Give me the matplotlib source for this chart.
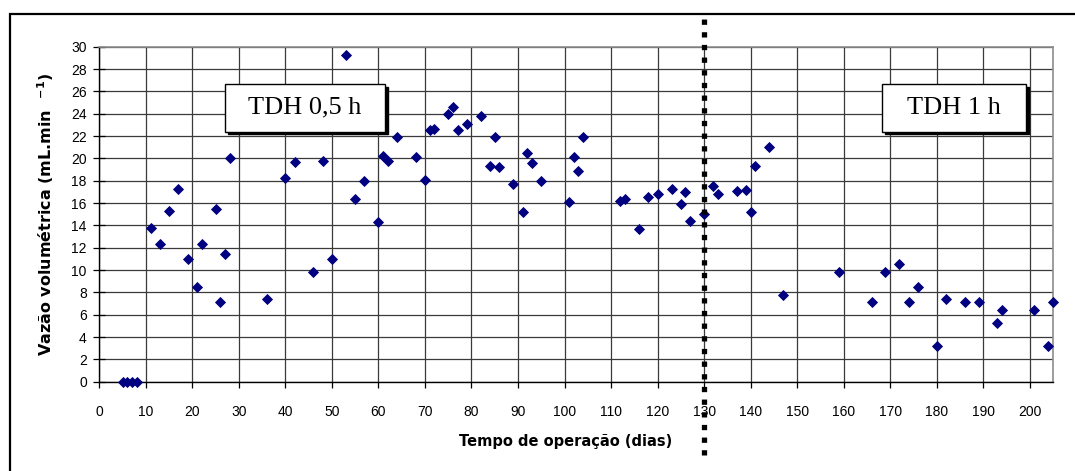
import matplotlib
matplotlib.use("Agg")
from matplotlib import pyplot as plt
from matplotlib.patches import Rectangle
from matplotlib.ticker import MultipleLocator

plt.rcParams['font.family'] = ['Liberation Sans', 'DejaVu Sans']
plt.rcParams['mathtext.fontset'] = 'custom'
plt.rcParams['mathtext.bf'] = 'DejaVu Sans:bold'
plt.rcParams['mathtext.rm'] = 'DejaVu Sans:bold'

# operation time (days) and volumetric flow (mL/min)
dias = [5, 6, 7, 8, 11, 13, 15, 17, 19, 21, 22, 25, 26, 27, 28, 36, 40, 42,
        46, 48, 50, 53, 55, 57, 60, 61, 62, 64, 68, 70, 71, 72, 75, 76, 77,
        79, 82, 84, 85, 86, 89, 91, 92, 93, 95, 101, 102, 103, 104, 112, 113,
        116, 118, 120, 123, 125, 126, 127, 130, 132, 133, 137, 139, 140, 141,
        144, 147, 159, 166, 169, 172, 174, 176, 180, 182, 186, 189, 193, 194,
        201, 204, 205]
vazao = [0, 0, 0, 0, 13.8, 12.3, 15.3, 17.3, 11.0, 8.5, 12.3, 15.5, 7.1, 11.4,
         20.0, 7.4, 18.2, 19.7, 9.8, 19.8, 11.0, 29.3, 16.4, 18.0, 14.3, 20.2,
         19.8, 21.9, 20.1, 18.1, 22.5, 22.6, 24.0, 24.6, 22.5, 23.1, 23.8,
         19.3, 21.9, 19.2, 17.7, 15.2, 20.5, 19.6, 18.0, 16.1, 20.1, 18.9,
         21.9, 16.2, 16.4, 13.7, 16.5, 16.8, 17.3, 15.9, 17.0, 14.4, 15.0,
         17.5, 16.8, 17.1, 17.2, 15.2, 19.3, 21.0, 7.8, 9.8, 7.1, 9.8, 10.5,
         7.1, 8.5, 3.2, 7.4, 7.1, 7.1, 5.3, 6.4, 6.4, 3.2, 7.1]

troca_tdh = 130
fases = ["TDH 0,5 h", "TDH 1 h"]

fig = plt.figure(figsize=(10.75, 4.71), dpi=100)
ax = fig.add_axes([0.0924, 0.1896, 0.8871, 0.7112])

ax.plot(dias, vazao, linestyle='none', marker='D', ms=5.5, mew=0.6,
        color='#000080', clip_on=False, zorder=5)

ax.set_xlim(0, 205)
ax.set_ylim(0, 30)
ax.xaxis.set_major_locator(MultipleLocator(10))
ax.yaxis.set_major_locator(MultipleLocator(2))
ax.grid(True, color='#3a3a3a', lw=0.9)
ax.set_axisbelow(True)

for lado in ['top', 'right']:
    ax.spines[lado].set_color('#8c8c8c')
    ax.spines[lado].set_linewidth(1.2)
for lado in ['left', 'bottom']:
    ax.spines[lado].set_color('black')
    ax.spines[lado].set_linewidth(1.0)

ax.tick_params(axis='y', direction='inout', length=8, width=0.9, pad=5,
               labelsize=10)
ax.tick_params(axis='x', direction='out', length=4, width=0.9, pad=13,
               labelsize=10)

ax.set_xlabel("Tempo de operação (dias)", fontsize=10.5, fontweight='bold',
              family='DejaVu Sans')
ax.xaxis.set_label_coords(0.489, -0.155)
ax.set_ylabel(r"Vazão volumétrica (mL.min  $^{-1}$)", fontsize=11.5,
              fontweight='bold', family='DejaVu Sans')
ax.yaxis.set_label_coords(-0.045, 0.5)

# dotted line marking the HRT change
ax.axvline(troca_tdh, ymin=-0.22, ymax=1.098, color='black', lw=3.8,
           linestyle=(0, (1, 1.4)), clip_on=False, zorder=6)

# labelled boxes with a drop shadow
caixas = [(0.1318, 0.2996), (0.8204, 0.9717)]
y0, y1 = 0.746, 0.8887
for (x0, x1), rotulo in zip(caixas, fases):
    sombra = Rectangle((x0 + 0.003, y0 - 0.008), x1 - x0, y1 - y0,
                       transform=ax.transAxes, facecolor='black',
                       edgecolor='black', zorder=7)
    caixa = Rectangle((x0, y0), x1 - x0, y1 - y0, transform=ax.transAxes,
                      facecolor='white', edgecolor='black', lw=1.0, zorder=8)
    ax.add_patch(sombra)
    ax.add_patch(caixa)
    ax.text((x0 + x1) / 2, (y0 + y1) / 2, rotulo, transform=ax.transAxes,
            ha='center', va='center', fontsize=19,
            family='Liberation Serif', zorder=9)

# outer frame around the chart area
fig.add_artist(Rectangle((10 / 1075, -0.05), 1.1, 1.05 - 14 / 471,
                         transform=fig.transFigure, fill=False,
                         edgecolor='black', lw=1.6))

fig.savefig("out.png", dpi=100)
